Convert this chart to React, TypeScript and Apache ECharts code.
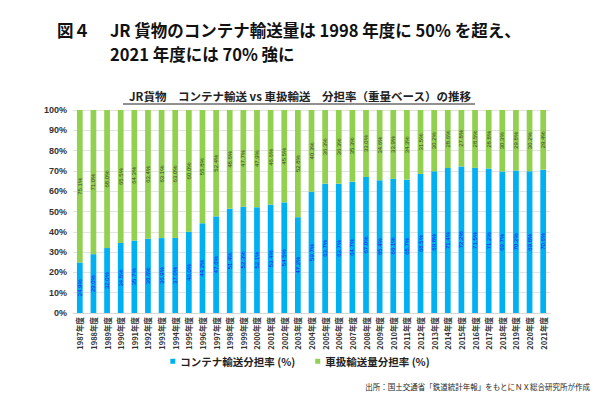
import React, { useEffect, useRef } from "react";
import * as echarts from "echarts";

const years = [
  "1987年度","1988年度","1989年度","1990年度","1991年度","1992年度","1993年度","1994年度","1995年度","1996年度",
  "1997年度","1998年度","1999年度","2000年度","2001年度","2002年度","2003年度","2004年度","2005年度","2006年度",
  "2007年度","2008年度","2009年度","2010年度","2011年度","2012年度","2013年度","2014年度","2015年度","2016年度",
  "2017年度","2018年度","2019年度","2020年度","2021年度",
];
const containerShare = [
  24.9, 29.0, 32.0, 34.5, 35.7, 36.6, 36.9, 37.0, 40.0, 44.2,
  47.6, 51.4, 52.3, 52.1, 53.4, 54.5, 47.2, 59.7, 63.7, 63.7,
  64.7, 67.0, 65.4, 66.1, 65.7, 68.5, 69.8, 71.4, 72.2, 71.5,
  71.2, 69.7, 70.2, 69.8, 70.6,
];
const wagonShare = [
  75.1, 71.0, 68.0, 65.5, 64.3, 63.4, 63.1, 63.0, 60.0, 55.8,
  52.4, 48.6, 47.7, 47.9, 46.6, 45.5, 52.8, 40.3, 36.3, 36.3,
  35.3, 33.0, 34.6, 33.9, 34.3, 31.5, 30.2, 28.6, 27.8, 28.5,
  28.8, 30.3, 29.8, 30.2, 29.4,
];
const seriesNames = ["コンテナ輸送分担率 (%)", "車扱輸送量分担率 (%)"];

const FONT = "'Noto Sans CJK JP', 'Noto Sans', sans-serif";

export default function App() {
  const ref = useRef<HTMLDivElement>(null);
  useEffect(() => {
    if (!ref.current) return;
    const chart = echarts.init(ref.current, undefined, { renderer: "svg" });
    chart.setOption({
      animation: false,
      backgroundColor: "#ffffff",
      textStyle: { fontFamily: FONT },
      grid: { left: 73, right: 50, top: 110, bottom: 86, containLabel: false },
      legend: {
        top: 351,
        left: "center",
        icon: "rect",
        itemWidth: 5,
        itemHeight: 5,
        itemGap: 20,
        textStyle: { fontSize: 10.5, fontWeight: "bold", color: "#222", fontFamily: FONT },
        data: seriesNames,
      },
      xAxis: {
        type: "category",
        data: years,
        axisLine: { show: true, lineStyle: { color: "#d9d9d9" } },
        axisTick: { show: false },
        axisLabel: {
          rotate: 90,
          interval: 0,
          fontSize: 7.5,
          fontWeight: "bold",
          color: "#333",
          margin: 4,
          fontFamily: FONT,
        },
      },
      yAxis: {
        type: "value",
        min: 0,
        max: 100,
        interval: 10,
        axisLine: { show: false },
        axisTick: { show: false },
        splitLine: { lineStyle: { color: "#e3e3e3" } },
        axisLabel: {
          formatter: "{value}%",
          fontSize: 9,
          fontWeight: "bold",
          color: "#333",
          margin: 6,
          fontFamily: "'Liberation Sans', Arial, sans-serif",
        },
      },
      series: [
        {
          name: seriesNames[0],
          type: "bar",
          stack: "total",
          data: containerShare,
          barWidth: "42%",
          itemStyle: { color: "#00B0F0" },
          label: {
            show: true,
            position: "inside",
            rotate: 90,
            fontSize: 6,
            color: "#1a1aff",
            fontFamily: "'Liberation Sans', Arial, sans-serif",
            formatter: (p: any) => p.value.toFixed(1) + "%",
          },
        },
        {
          name: seriesNames[1],
          type: "bar",
          stack: "total",
          data: wagonShare,
          barWidth: "42%",
          itemStyle: { color: "#92D050" },
          label: {
            show: true,
            position: "inside",
            rotate: 90,
            fontSize: 6,
            color: "#3a4a20",
            fontFamily: "'Liberation Sans', Arial, sans-serif",
            formatter: (p: any) => p.value.toFixed(1) + "%",
          },
        },
      ],
      graphic: [
        {
          type: "text",
          x: 57,
          y: 30,
          style: {
            text: "図４",
            fontSize: 16.5,
            fontWeight: "bold",
            fontFamily: FONT,
            fill: "#111",
            verticalAlign: "middle",
          },
        },
        {
          type: "text",
          x: 110,
          y: 30,
          style: {
            text: "JR 貨物のコンテナ輸送量は 1998 年度に 50% を超え、",
            fontSize: 16.5,
            fontWeight: "bold",
            fontFamily: FONT,
            fill: "#111",
            verticalAlign: "middle",
          },
        },
        {
          type: "text",
          x: 110,
          y: 54,
          style: {
            text: "2021 年度には 70% 強に",
            fontSize: 16.5,
            fontWeight: "bold",
            fontFamily: FONT,
            fill: "#111",
            verticalAlign: "middle",
          },
        },
        {
          type: "text",
          x: 300,
          y: 96,
          style: {
            text: "JR貨物　コンテナ輸送 vs 車扱輸送　分担率（重量ベース）の推移",
            fontSize: 11.5,
            fontWeight: "bold",
            fontFamily: FONT,
            fill: "#222",
            align: "center",
            verticalAlign: "middle",
          },
        },
        {
          type: "line",
          shape: { x1: 123, y1: 104, x2: 475, y2: 104 },
          style: { stroke: "#222", lineWidth: 1 },
        },
        {
          type: "text",
          x: 590,
          y: 386,
          style: {
            text: "出所：国土交通省「鉄道統計年報」をもとにＮＸ総合研究所が作成",
            fontSize: 7.5,
            fontFamily: FONT,
            fill: "#222",
            align: "right",
            verticalAlign: "middle",
          },
        },
      ],
    });
    return () => chart.dispose();
  }, []);
  return (
    <div
      ref={ref}
      style={{ position: "absolute", left: 0, top: 0, width: 600, height: 399 }}
    />
  );
}
